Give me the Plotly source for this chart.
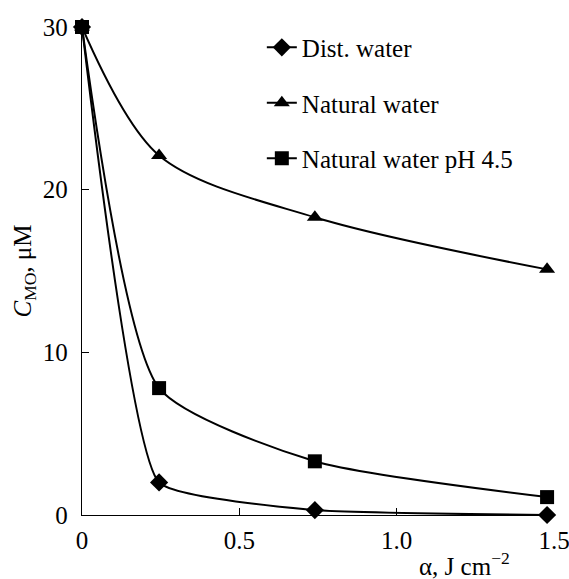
import plotly.graph_objects as go

x_vals = [0, 0.245, 0.74, 1.478]
dist_water = [30, 2.0, 0.3, 0.0]
natural_water = [30, 22.1, 18.3, 15.1]
natural_ph45 = [30, 7.8, 3.3, 1.1]

names = ["Dist. water", "Natural water", "Natural water pH 4.5"]
symbols = ["diamond", "triangle-up", "square"]
series = [dist_water, natural_water, natural_ph45]
smooth = [0.4, 0.9, 0.6]

fig = go.Figure()
for i, (nm, sym, ys, sm) in enumerate(zip(names, symbols, series, smooth)):
    fig.add_trace(go.Scatter(
        x=x_vals, y=ys, name=nm, mode="lines+markers",
        line=dict(color="black", width=2, shape="spline", smoothing=sm),
        marker=dict(symbol=sym, size=14, color="black"),
        cliponaxis=False, legendgroup=f"g{i}",
    ))

FAM = "Liberation Serif"
font = dict(family=FAM, size=25, color="black")
fig.update_layout(
    width=569, height=579,
    margin=dict(l=82, r=15, t=27, b=64),
    paper_bgcolor="white", plot_bgcolor="white",
    font=font,
    showlegend=True,
    legend=dict(x=0.381, y=1.005, xanchor="left", yanchor="top",
                bgcolor="rgba(0,0,0,0)", tracegroupgap=20, font=font),
    xaxis=dict(range=[0, 1.5], tickvals=[0, 0.5, 1.0, 1.5], ticktext=["0", "0.5", "1.0", "1.5"],
               ticks="inside", ticklen=7, tickcolor="black", showline=True, linecolor="black",
               linewidth=1.3, showgrid=False, zeroline=False, tickfont=font,
               ticklabelstandoff=3, ticklabeloverflow="allow", automargin=False),
    yaxis=dict(range=[0, 30], tickvals=[0, 10, 20, 30],
               ticks="inside", ticklen=7, tickcolor="black", showline=True, linecolor="black",
               linewidth=1.3, showgrid=False, zeroline=False, tickfont=font,
               ticklabelstandoff=8, automargin=False,
               title=dict(text="<i>C</i><sub>MO</sub>, μM", font=font, standoff=4)),
    annotations=[dict(text="α, J cm<sup>−2</sup>", xref="paper", yref="paper",
                      x=0.81, y=-0.1, xanchor="center", yanchor="middle",
                      showarrow=False, font=font)],
)
fig.write_html("out.html")
